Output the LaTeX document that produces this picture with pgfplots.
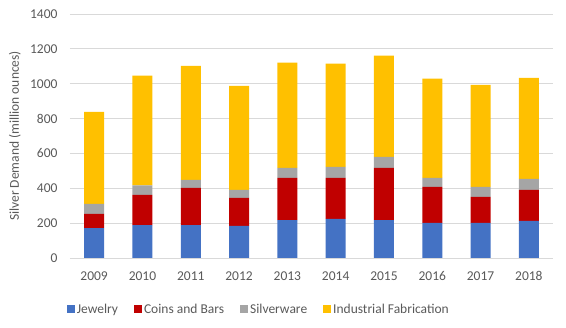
\documentclass[border=0pt]{standalone}
\usepackage{pgfplots}
\pgfplotsset{compat=1.18}
\usepackage{fontspec}
\setmainfont{Carlito}
\definecolor{cBlue}{HTML}{4472C4}
\definecolor{cRed}{HTML}{C00000}
\definecolor{cGray}{HTML}{A5A5A5}
\definecolor{cYellow}{HTML}{FFC000}
\definecolor{cText}{HTML}{595959}
\definecolor{cGrid}{HTML}{D9D9D9}
\begin{document}
\begin{tikzpicture}
\path[use as bounding box] (-70bp,-70bp) rectangle (496bp,258bp);
\begin{axis}[
  at={(0,0)}, anchor=south west,
  scale only axis, width=483bp, height=244bp,
  ybar stacked, bar width=20bp,
  xmin=-0.5, xmax=9.5, ymin=0, ymax=1400,
  ytick={0,200,...,1400},
  xtick={0,...,9},
  xticklabels={2009,2010,2011,2012,2013,2014,2015,2016,2017,2018},
  ymajorgrids, grid style={cGrid, line width=0.75bp},
  axis x line*=bottom, axis y line*=left,
  x axis line style={cGrid, line width=0.75bp, -},
  y axis line style={draw=none},
  major tick length=0pt,
  tick label style={font=\fontsize{13.5bp}{16bp}\selectfont, text=cText},
  /pgf/number format/assume math mode=true,
  /pgf/number format/1000 sep={},
  yticklabel style={xshift=-9bp},
  xticklabel style={yshift=-10bp},
  ylabel={Silver Demand (million ounces)},
  ylabel style={at={(axis description cs:-0.114,0.5)}, anchor=center, font=\fontsize{13.5bp}{16bp}\selectfont, text=cText},
  legend columns=4,
  legend style={at={(axis description cs:0.391,-0.21)}, anchor=center, draw=none, fill=none,
    font=\fontsize{13.5bp}{16bp}\selectfont, text=cText,
    /tikz/every even column/.append style={column sep=14bp}},
  legend image code/.code={\fill[#1] (0bp,-4bp) rectangle (8bp,4bp);},
  every axis plot/.append style={draw=none},
]
\addplot[fill=cBlue] coordinates {(0,172) (1,188) (2,188) (3,184) (4,218) (5,224) (6,218) (7,201) (8,201) (9,213)};
\addplot[fill=cRed] coordinates {(0,81) (1,174) (2,214) (3,161) (4,242) (5,236) (6,299) (7,207) (8,150) (9,178)};
\addplot[fill=cGray] coordinates {(0,57) (1,54) (2,46) (3,46) (4,57) (5,63) (6,63) (7,52) (8,57) (9,63)};
\addplot[fill=cYellow] coordinates {(0,529) (1,630) (2,655) (3,597) (4,604) (5,592) (6,581) (7,569) (8,586) (9,580)};
\legend{Jewelry,Coins and Bars,Silverware,Industrial Fabrication}
\end{axis}
\end{tikzpicture}
\end{document}
